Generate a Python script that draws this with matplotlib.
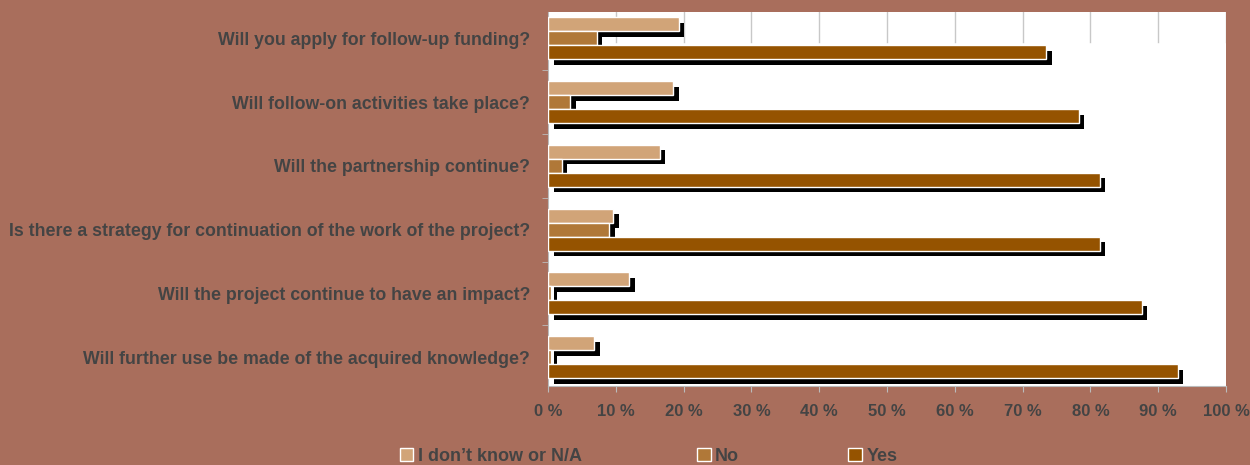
import matplotlib.pyplot as plt
import matplotlib.patheffects as pe
import matplotlib.patches as mpatches
import numpy as np

questions = [
    "Will you apply for follow-up funding?",
    "Will follow-on activities take place?",
    "Will the partnership continue?",
    "Is there a strategy for continuation of the work of the project?",
    "Will the project continue to have an impact?",
    "Will further use be made of the acquired knowledge?",
]
dont_know = [19.3, 18.5, 16.5, 9.6, 12.0, 6.8]
no = [7.2, 3.3, 2.0, 9.0, 0.5, 0.5]
yes = [73.5, 78.3, 81.4, 81.4, 87.6, 92.9]
series_names = ["I don\u2019t know or N/A", "No", "Yes"]
colors = ["#D1A478", "#B07838", "#955300"]

bg = "#A96E5C"
txt = "#444444"
plt.rcParams['font.family'] = ['Liberation Sans', 'DejaVu Sans']

fig = plt.figure(figsize=(12.5, 4.65), dpi=100, facecolor=bg)
ax = fig.add_axes([0.4384, 0.170, 0.5424, 0.804])
ax.set_facecolor("white")

y = np.arange(len(questions))
h = 0.22
shadow = [pe.SimplePatchShadow(offset=(4, -4), shadow_rgbFace="black", alpha=1.0), pe.Normal()]
for vals, off, c in zip([dont_know, no, yes], [-h, 0, h], colors):
    bars = ax.barh(y + off, vals, height=h, color=c, edgecolor="white", linewidth=1.0, zorder=3)
    for b in bars:
        b.set_path_effects(shadow)

ax.set_xlim(0, 100)
ax.set_ylim(len(questions) - 0.55, -0.41)
ax.set_xticks(np.arange(0, 101, 10))
ax.set_xticklabels([f"{v} %" for v in range(0, 101, 10)], fontsize=12, fontweight="bold", color=txt)
for v in range(10, 101, 10):
    ax.axvline(v, ymin=0.92, ymax=1.0, color="#c8c8c8", lw=1, zorder=1)

ax.set_yticks(y)
ax.set_yticklabels(questions, fontsize=12.8, fontweight="bold", color=txt)
ax.tick_params(axis="y", length=0, pad=13)
ax.set_yticks(np.arange(0.5, len(questions) - 1, 1), minor=True)
ax.tick_params(axis="y", which="minor", length=4, color="#bbbbbb", direction="out")
ax.tick_params(axis="x", length=4, color="#bbbbbb", pad=9)
for s in ["top", "right"]:
    ax.spines[s].set_visible(False)
ax.spines["left"].set_color("#bbbbbb")
ax.spines["bottom"].set_color("#bbbbbb")

legend_x = [0.3125, 0.5505, 0.6715]
for name, c, lx in zip(series_names, colors, legend_x):
    handle = mpatches.Patch(facecolor=c, edgecolor="white", linewidth=1)
    fig.legend(handles=[handle], labels=[name], loc="center left", bbox_to_anchor=(lx, 0.018),
               frameon=False, handlelength=0.75, handleheight=0.75, handletextpad=0.25,
               prop={"size": 13, "weight": "bold"}, labelcolor=txt, borderpad=0)

fig.savefig("out.png", dpi=100, facecolor=bg)
